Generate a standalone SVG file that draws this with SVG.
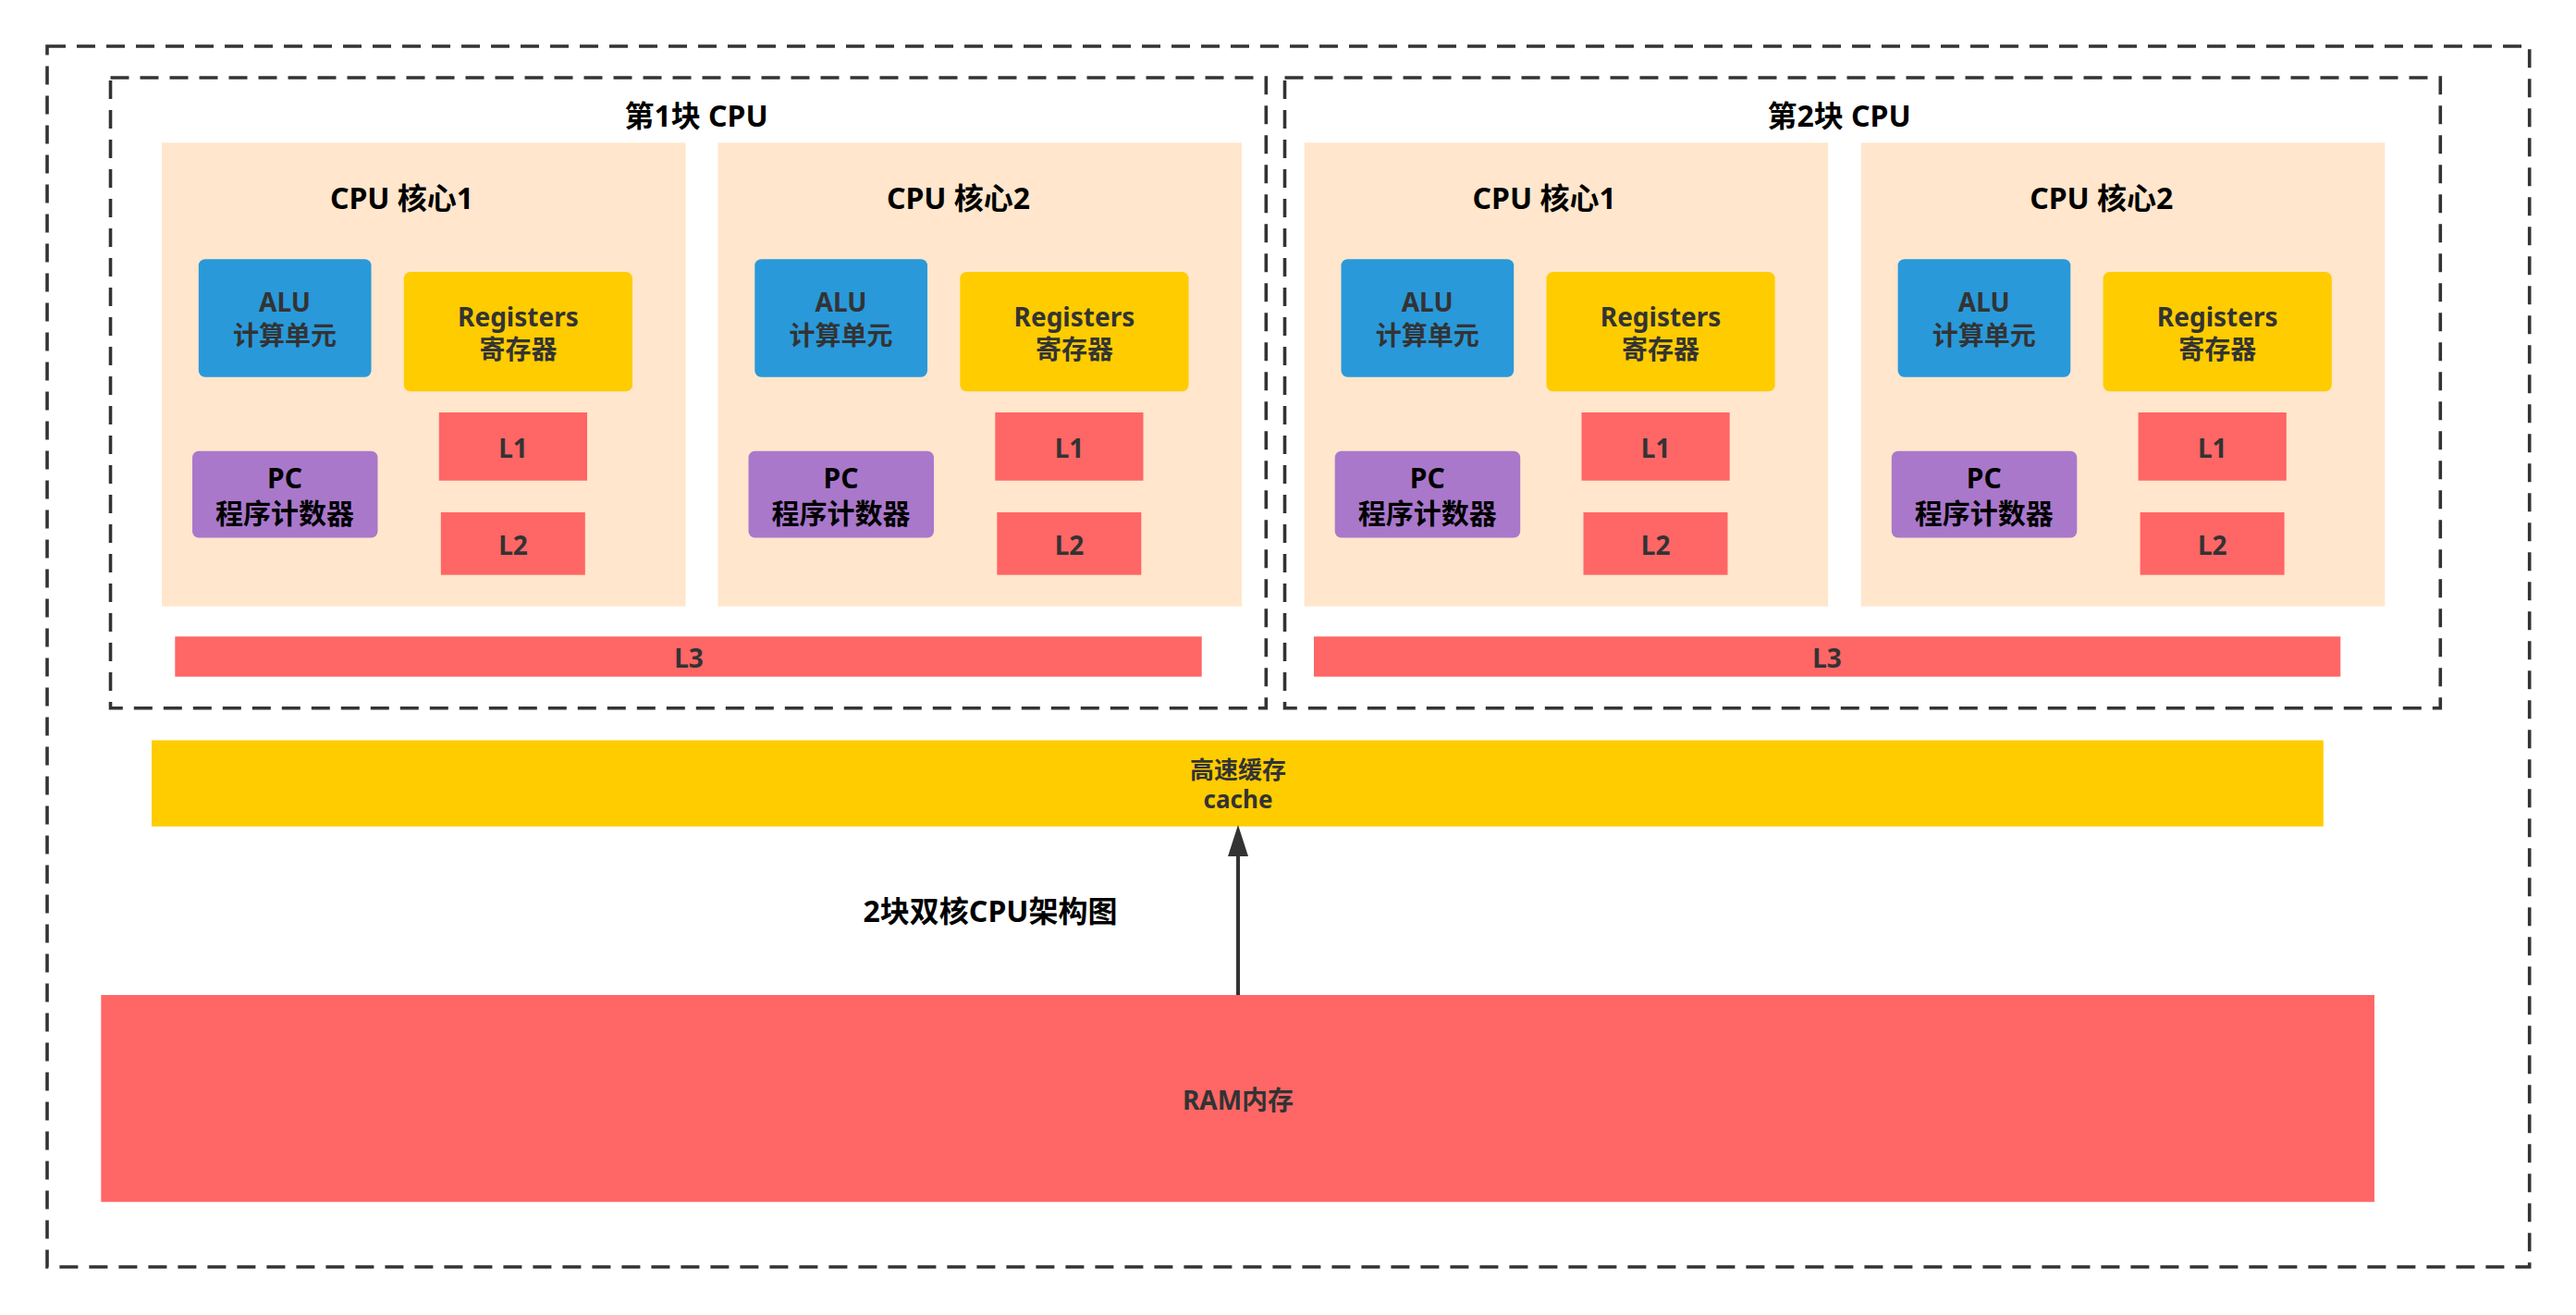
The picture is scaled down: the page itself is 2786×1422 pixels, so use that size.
<svg xmlns="http://www.w3.org/2000/svg" width="2786" height="1422" viewBox="0 0 2786 1422">
<style>
text{font-family:"Noto Sans","Noto Sans CJK SC",sans-serif;font-weight:bold;text-anchor:middle}
.dash{fill:none;stroke:#333;stroke-width:3.6;stroke-dasharray:20 12}
.core{fill:#FFE6CC}
.alu{fill:#2999DA}
.reg{fill:#FFCC00}
.red{fill:#FF6666}
.pc{fill:#A978CB}
.t32{font-size:32px;fill:#000}
.t28{font-size:28px;fill:#333}
.t26{font-size:26px;fill:#333}
.t30k{font-size:30px;fill:#000}
</style>
<defs>
<marker id="arrow" viewBox="0 0 34 22" refX="21" refY="11" markerWidth="34" markerHeight="22" markerUnits="userSpaceOnUse" orient="auto">
<path d="M0,0 L34,11 L0,22 z" fill="#333"/>
</marker>
<g id="coreTpl">
<rect class="core" x="0" y="154.3" width="566.5" height="501.4"/>
<rect class="alu" x="39.8" y="280.2" width="186.7" height="127.5" rx="7"/>
<rect class="reg" x="261.8" y="294.1" width="247.2" height="129.2" rx="7"/>
<rect class="red" x="299.8" y="446" width="160.2" height="73.7"/>
<rect class="red" x="301.8" y="554" width="156" height="67.7"/>
<rect class="pc" x="33" y="487.8" width="200.5" height="93.7" rx="7"/>
<text class="t28" x="133" y="337">ALU</text>
<text class="t28" x="133" y="373">计算单元</text>
<text class="t28" x="385.4" y="352.5">Registers</text>
<text class="t28" x="385.4" y="388">寄存器</text>
<text class="t28" x="380" y="494.5">L1</text>
<text class="t28" x="380" y="600">L2</text>
<text class="t30k" x="133" y="527.5">PC</text>
<text class="t30k" x="133" y="566">程序计数器</text>
</g>
</defs>

<g id="system">
<rect class="dash" x="51" y="50" width="2684.7" height="1320"/>
</g>

<g id="cpu1">
<rect class="dash" x="119.5" y="84" width="1249.8" height="681.7"/>
<text class="t32" x="753" y="137">第1块 CPU</text>
</g>
<g id="cpu1-core1" transform="translate(175,0)">
<use href="#coreTpl"/>
<text class="t32" x="259.5" y="226">CPU 核心1</text>
</g>
<g id="cpu1-core2" transform="translate(776.5,0)">
<use href="#coreTpl"/>
<text class="t32" x="260" y="226">CPU 核心2</text>
</g>
<g id="cpu1-l3">
<rect class="red" x="189.3" y="688.3" width="1110.4" height="43.4"/>
<text class="t28" x="745" y="721.5">L3</text>
</g>

<g id="cpu2">
<rect class="dash" x="1389.5" y="84" width="1249.8" height="681.7"/>
<text class="t32" x="1989" y="137">第2块 CPU</text>
</g>
<g id="cpu2-core1" transform="translate(1410.7,0)">
<use href="#coreTpl"/>
<text class="t32" x="259.5" y="226">CPU 核心1</text>
</g>
<g id="cpu2-core2" transform="translate(2012.8,0)">
<use href="#coreTpl"/>
<text class="t32" x="260" y="226">CPU 核心2</text>
</g>
<g id="cpu2-l3">
<rect class="red" x="1421" y="688.3" width="1110.3" height="43.4"/>
<text class="t28" x="1976" y="721.5">L3</text>
</g>

<g id="cache">
<rect class="reg" x="164" y="800.5" width="2348.8" height="93.2"/>
<text class="t26" x="1339" y="842">高速缓存</text>
<text class="t26" x="1339" y="874">cache</text>
</g>

<g id="title">
<text class="t32" x="1071" y="997">2块双核CPU架构图</text>
</g>

<g id="ram">
<rect class="red" x="109.3" y="1076" width="2458.7" height="223.7"/>
<text class="t28" x="1339" y="1200">RAM内存</text>
</g>

<g id="connectors">
<path d="M1339,1076 L1339,905" fill="none" stroke="#333" stroke-width="4" marker-end="url(#arrow)"/>
</g>
</svg>
